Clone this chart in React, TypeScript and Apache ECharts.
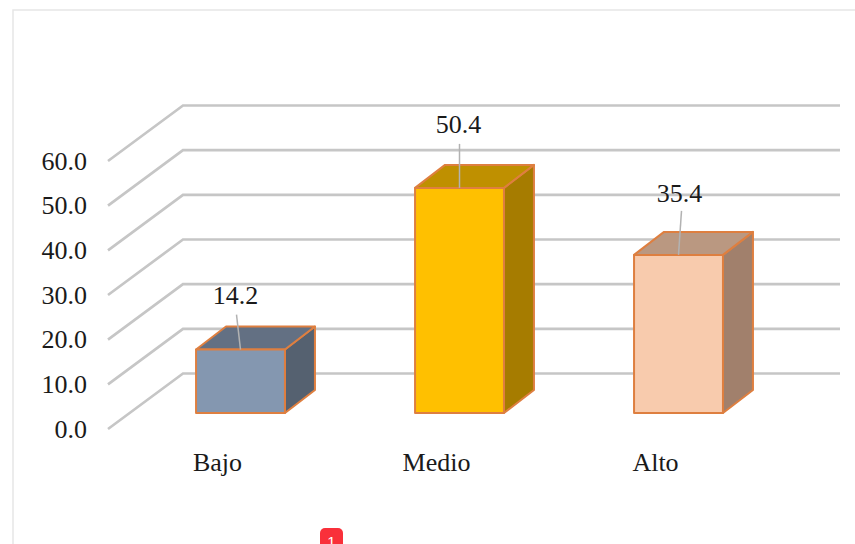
import React, { useEffect, useRef } from "react";
import * as echarts from "echarts";

const categories = ["Bajo", "Medio", "Alto"];
const values = [14.2, 50.4, 35.4];
const wallTicks = [0, 10, 20, 30, 40, 50, 60];

// Front, top and side shades of each box.
const frontColors = ["#8497B0", "#FFC000", "#F8CBAD"];
const topColors = ["#637083", "#BF9000", "#BA9881"];
const sideColors = ["#556170", "#A67C00", "#A1806C"];

const FONT = '26px "Liberation Serif", serif';
const EDGE = "#DE7F40";
const GRID_LINE = "#C6C6C6";
const LEADER_LINE = "#B2B2B2";

// Projection offsets of the fake 3D scene.
const WALL_DEPTH = [75, -55.5];
const BOX_SHIFT = [23, -16];
const BOX_DEPTH = [30, -23];
const BOX_BAND = 0.406;

// Leader line and label placement, relative to the top-centre of each box front.
const leaderEnds = [[-4, -35], [0, -44], [3, -44]];
const labelOffsets = [[-5, -54], [-1, -63], [1, -61]];

function renderWall(params: any, api: any) {
  const rect = params.coordSys;
  const y = api.coord([0, api.value(1)])[1];
  return {
    type: "polyline",
    silent: true,
    shape: {
      points: [
        [rect.x, y],
        [rect.x + WALL_DEPTH[0], y + WALL_DEPTH[1]],
        [rect.x + rect.width + WALL_DEPTH[0], y + WALL_DEPTH[1]],
      ],
    },
    style: { stroke: GRID_LINE, lineWidth: 2.7, fill: "none" },
  };
}

function renderBox(params: any, api: any) {
  const i = params.dataIndex;
  const value = api.value(1);
  const top = api.coord([i, value]);
  const base = api.coord([i, 0]);
  const width = api.size([1, 0])[0] * BOX_BAND;
  const xl = top[0] + BOX_SHIFT[0] - width / 2;
  const xr = xl + width;
  const yt = top[1] + BOX_SHIFT[1];
  const yb = base[1] + BOX_SHIFT[1];
  const [dx, dy] = BOX_DEPTH;
  const edge = { stroke: EDGE, lineWidth: 2, lineJoin: "round" };
  const cx = (xl + xr) / 2;
  const lead = leaderEnds[i];
  const off = labelOffsets[i];
  return {
    type: "group",
    children: [
      {
        type: "polygon",
        shape: { points: [[xr, yt], [xr + dx, yt + dy], [xr + dx, yb + dy], [xr, yb]] },
        style: { fill: sideColors[i], ...edge },
      },
      {
        type: "polygon",
        shape: { points: [[xl, yt], [xl + dx, yt + dy], [xr + dx, yt + dy], [xr, yt]] },
        style: { fill: topColors[i], ...edge },
      },
      {
        type: "rect",
        shape: { x: xl, y: yt, width, height: yb - yt },
        style: { fill: frontColors[i], ...edge },
      },
      {
        type: "line",
        shape: { x1: cx, y1: yt, x2: cx + lead[0], y2: yt + lead[1] },
        style: { stroke: LEADER_LINE, lineWidth: 1.5 },
      },
      {
        type: "text",
        style: {
          text: value.toFixed(1),
          x: cx + off[0],
          y: yt + off[1],
          font: FONT,
          fill: "#1A1A1A",
          align: "center",
          verticalAlign: "middle",
        },
      },
    ],
  };
}

export default function App() {
  const ref = useRef<HTMLDivElement>(null);

  useEffect(() => {
    document.body.style.margin = "0";
    document.body.style.overflow = "hidden";
    const chart = echarts.init(ref.current!, undefined, { renderer: "svg" });
    chart.setOption({
      animation: false,
      backgroundColor: "#FFFFFF",
      grid: { left: 108, top: 161, width: 657, height: 268 },
      xAxis: {
        type: "category",
        data: categories,
        axisLine: { show: false },
        axisTick: { show: false },
        axisLabel: { color: "#1A1A1A", fontFamily: "Liberation Serif", fontSize: 26, margin: 20 },
      },
      yAxis: {
        type: "value",
        min: 0,
        max: 60,
        interval: 10,
        axisLine: { show: false },
        axisTick: { show: false },
        splitLine: { show: false },
        axisLabel: {
          color: "#1A1A1A",
          fontFamily: "Liberation Serif",
          fontSize: 26,
          margin: 21,
          formatter: (v: number) => v.toFixed(1),
        },
      },
      graphic: [
        // Card outline running off the right and bottom of the page.
        {
          type: "rect",
          z: -1,
          shape: { x: 13, y: 10, width: 900, height: 600 },
          style: { fill: "#FFFFFF", stroke: "#E6E6E6", lineWidth: 1.5 },
        },
        // Notification badge cut by the bottom edge.
        {
          type: "rect",
          z: 10,
          shape: { x: 320, y: 528, width: 23, height: 24, r: 5 },
          style: { fill: "#F9303A" },
        },
        {
          type: "text",
          z: 11,
          style: {
            text: "1",
            x: 331.5,
            y: 534,
            font: '15px "Liberation Sans", sans-serif',
            fill: "#FFFFFF",
            align: "center",
            verticalAlign: "top",
          },
        },
      ],
      series: [
        {
          type: "custom",
          clip: false,
          z: 1,
          silent: true,
          renderItem: renderWall,
          data: wallTicks.map((t) => [0, t]),
          encode: { x: 0, y: 1 },
        },
        {
          type: "custom",
          clip: false,
          z: 2,
          silent: true,
          renderItem: renderBox,
          data: values.map((v, i) => [i, v]),
          encode: { x: 0, y: 1 },
        },
      ],
    });
    return () => chart.dispose();
  }, []);

  return <div ref={ref} style={{ width: 855, height: 544 }} />;
}
